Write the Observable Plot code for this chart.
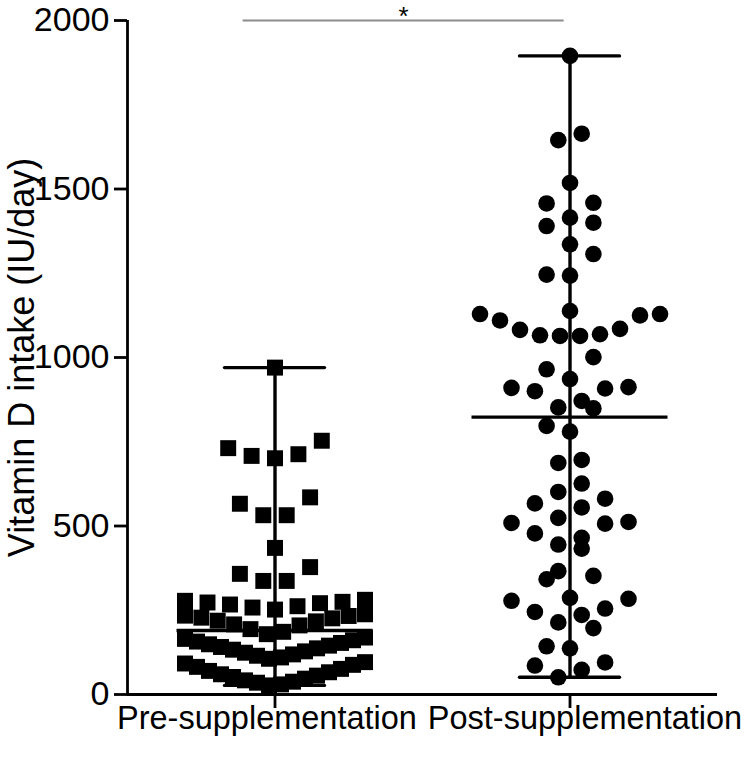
<!DOCTYPE html>
<html>
<head>
<meta charset="utf-8">
<script src="https://cdn.jsdelivr.net/npm/d3@7"></script>
<script src="https://cdn.jsdelivr.net/npm/@observablehq/plot@0.6"></script>
<style>
  html, body { margin: 0; padding: 0; background: #fff; }
  #chart svg { display: block; }
</style>
</head>
<body>
<div id="chart"></div>
<script>
// ---- data ----
const groups = ["Pre-supplementation", "Post-supplementation"];
const preValues = [970, 753, 731, 713, 708, 701, 585, 566, 532, 532, 435, 378, 358, 337, 337,
  281, 278, 275, 273, 271, 267, 262, 258, 252,
  238, 234, 233, 228, 226, 219, 217, 208, 205, 194, 186, 179,
  169, 165, 161, 157, 153, 149, 145, 141, 137, 133, 128, 124, 119, 115, 110, 106,
  96, 92, 88, 82, 76, 70, 66, 60, 56, 52, 47, 42, 38, 35, 30, 27];
const postValues = [51, 73, 86, 95, 137, 143, 197, 214, 236, 245, 255, 278, 284, 287, 342, 352,
  366, 433, 445, 465, 478, 507, 509, 512, 524, 555, 567, 581, 601, 626, 687, 696, 780, 797,
  849, 852, 871, 900, 908, 910, 912, 936, 965, 1001, 1064, 1064, 1066, 1069, 1082, 1085,
  1110, 1125, 1129, 1129, 1138, 1243, 1246, 1307, 1336, 1390, 1400, 1415, 1457, 1459,
  1518, 1645, 1664, 1895];
const yTicks = [0, 500, 1000, 1500, 2000];
const yLabel = "Vitamin D intake (IU/day)";
const sigLabel = "*";
const sigFrom = -0.108, sigTo = 0.98;   // comparison bar span (group-index units)

// ---- geometry ----
const W = 750, H = 762;
const mL = 127, mR = 33, mT = 20, mB = 68;
const xDomain = [-0.5, 1.5];
const yDomain = [0, 2000];
const pxPerUnit = (W - mL - mR) / (xDomain[1] - xDomain[0]);

// Prism-like column scatter: bin values into rows, spread each row centre-out
const BIN = 72, STEP = 23.4, MAXW = 180;
function layout(values, gi) {
  const s = values.slice().sort((a, b) => a - b);
  const out = [];
  let i = 0;
  while (i < s.length) {
    const start = s[i];
    const bin = [];
    while (i < s.length && s[i] < start + BIN) bin.push(s[i++]);
    const n = bin.length;
    const step = n > 1 ? Math.min(STEP, MAXW / (n - 1)) : 0;
    bin.forEach((v, k) => {
      let slot;
      if (n % 2 === 1) slot = k === 0 ? 0 : (k % 2 === 1 ? -(k + 1) / 2 : k / 2);
      else { const m = Math.floor(k / 2) + 0.5; slot = k % 2 === 0 ? -m : m; }
      out.push({group: groups[gi], gi, value: v, x: gi + slot * step / pxPerUnit});
    });
  }
  return out;
}
const prePts = layout(preValues, 0);
const postPts = layout(postValues, 1);

const stats = [preValues, postValues].map((vals, gi) => ({
  gi, min: d3.min(vals), max: d3.max(vals), median: d3.median(vals)
}));
const capHalf = 50 / pxPerUnit, medHalf = 98 / pxPerUnit;

const font = "'Liberation Sans', Arial, Helvetica, sans-serif";

const chart = Plot.plot({
  width: W, height: H,
  marginLeft: mL, marginRight: mR, marginTop: mT, marginBottom: mB,
  style: {fontFamily: font, background: "#fff", color: "#000", overflow: "visible"},
  x: {domain: xDomain, axis: null},
  y: {domain: yDomain, axis: null, label: null},
  marks: [
    // axes
    Plot.ruleX([xDomain[0]], {y1: yDomain[0], y2: yDomain[1], strokeWidth: 2.8, stroke: "#000"}),
    Plot.ruleY([yDomain[0]], {x1: xDomain[0], x2: xDomain[1], strokeWidth: 2.8, stroke: "#000"}),
    Plot.axisY(yTicks, {anchor: "left", tickSize: 13, tickPadding: 5, fontSize: 34,
      strokeWidth: 2.8, tickFormat: d3.format("d"), label: null}),
    Plot.axisX([0, 1], {anchor: "bottom", tickSize: 14, strokeWidth: 2.8,
      tickFormat: () => "", label: null}),
    Plot.text([groups[0]], {x: 0, frameAnchor: "bottom", lineAnchor: "top", dy: 11, dx: -8,
      fontSize: 32.5, fill: "#000"}),
    Plot.text([groups[1]], {x: 1, frameAnchor: "bottom", lineAnchor: "top", dy: 11, dx: 15,
      fontSize: 32.5, fill: "#000"}),
    Plot.text([yLabel], {frameAnchor: "left", textAnchor: "middle", lineAnchor: "middle",
      dx: -105, rotate: -90, fontSize: 36, fill: "#000"}),
    // range + median
    Plot.ruleX(stats, {x: "gi", y1: "min", y2: "max", strokeWidth: 3.4, stroke: "#000"}),
    Plot.ruleY(stats, {y: "min", x1: d => d.gi - capHalf, x2: d => d.gi + capHalf, strokeWidth: 3.4, stroke: "#000", strokeLinecap: "round"}),
    Plot.ruleY(stats, {y: "max", x1: d => d.gi - capHalf, x2: d => d.gi + capHalf, strokeWidth: 3.4, stroke: "#000", strokeLinecap: "round"}),
    Plot.ruleY(stats, {y: "median", x1: d => d.gi - medHalf, x2: d => d.gi + medHalf, strokeWidth: 3.4, stroke: "#000"}),
    // points
    Plot.dot(prePts, {x: "x", y: "value", symbol: "square", r: 9, fill: "#000", stroke: "none"}),
    Plot.dot(postPts, {x: "x", y: "value", symbol: "circle", r: 8.3, fill: "#000", stroke: "none"}),
    // significance
    Plot.ruleY([yDomain[1]], {x1: sigFrom, x2: sigTo, stroke: "#8c8c8c", strokeWidth: 1.8}),
    Plot.text([sigLabel], {x: (sigFrom + sigTo) / 2, y: yDomain[1], lineAnchor: "bottom", dy: 4,
      fontSize: 26, fill: "#000"})
  ]
});
document.getElementById("chart").appendChild(chart);
</script>
</body>
</html>
